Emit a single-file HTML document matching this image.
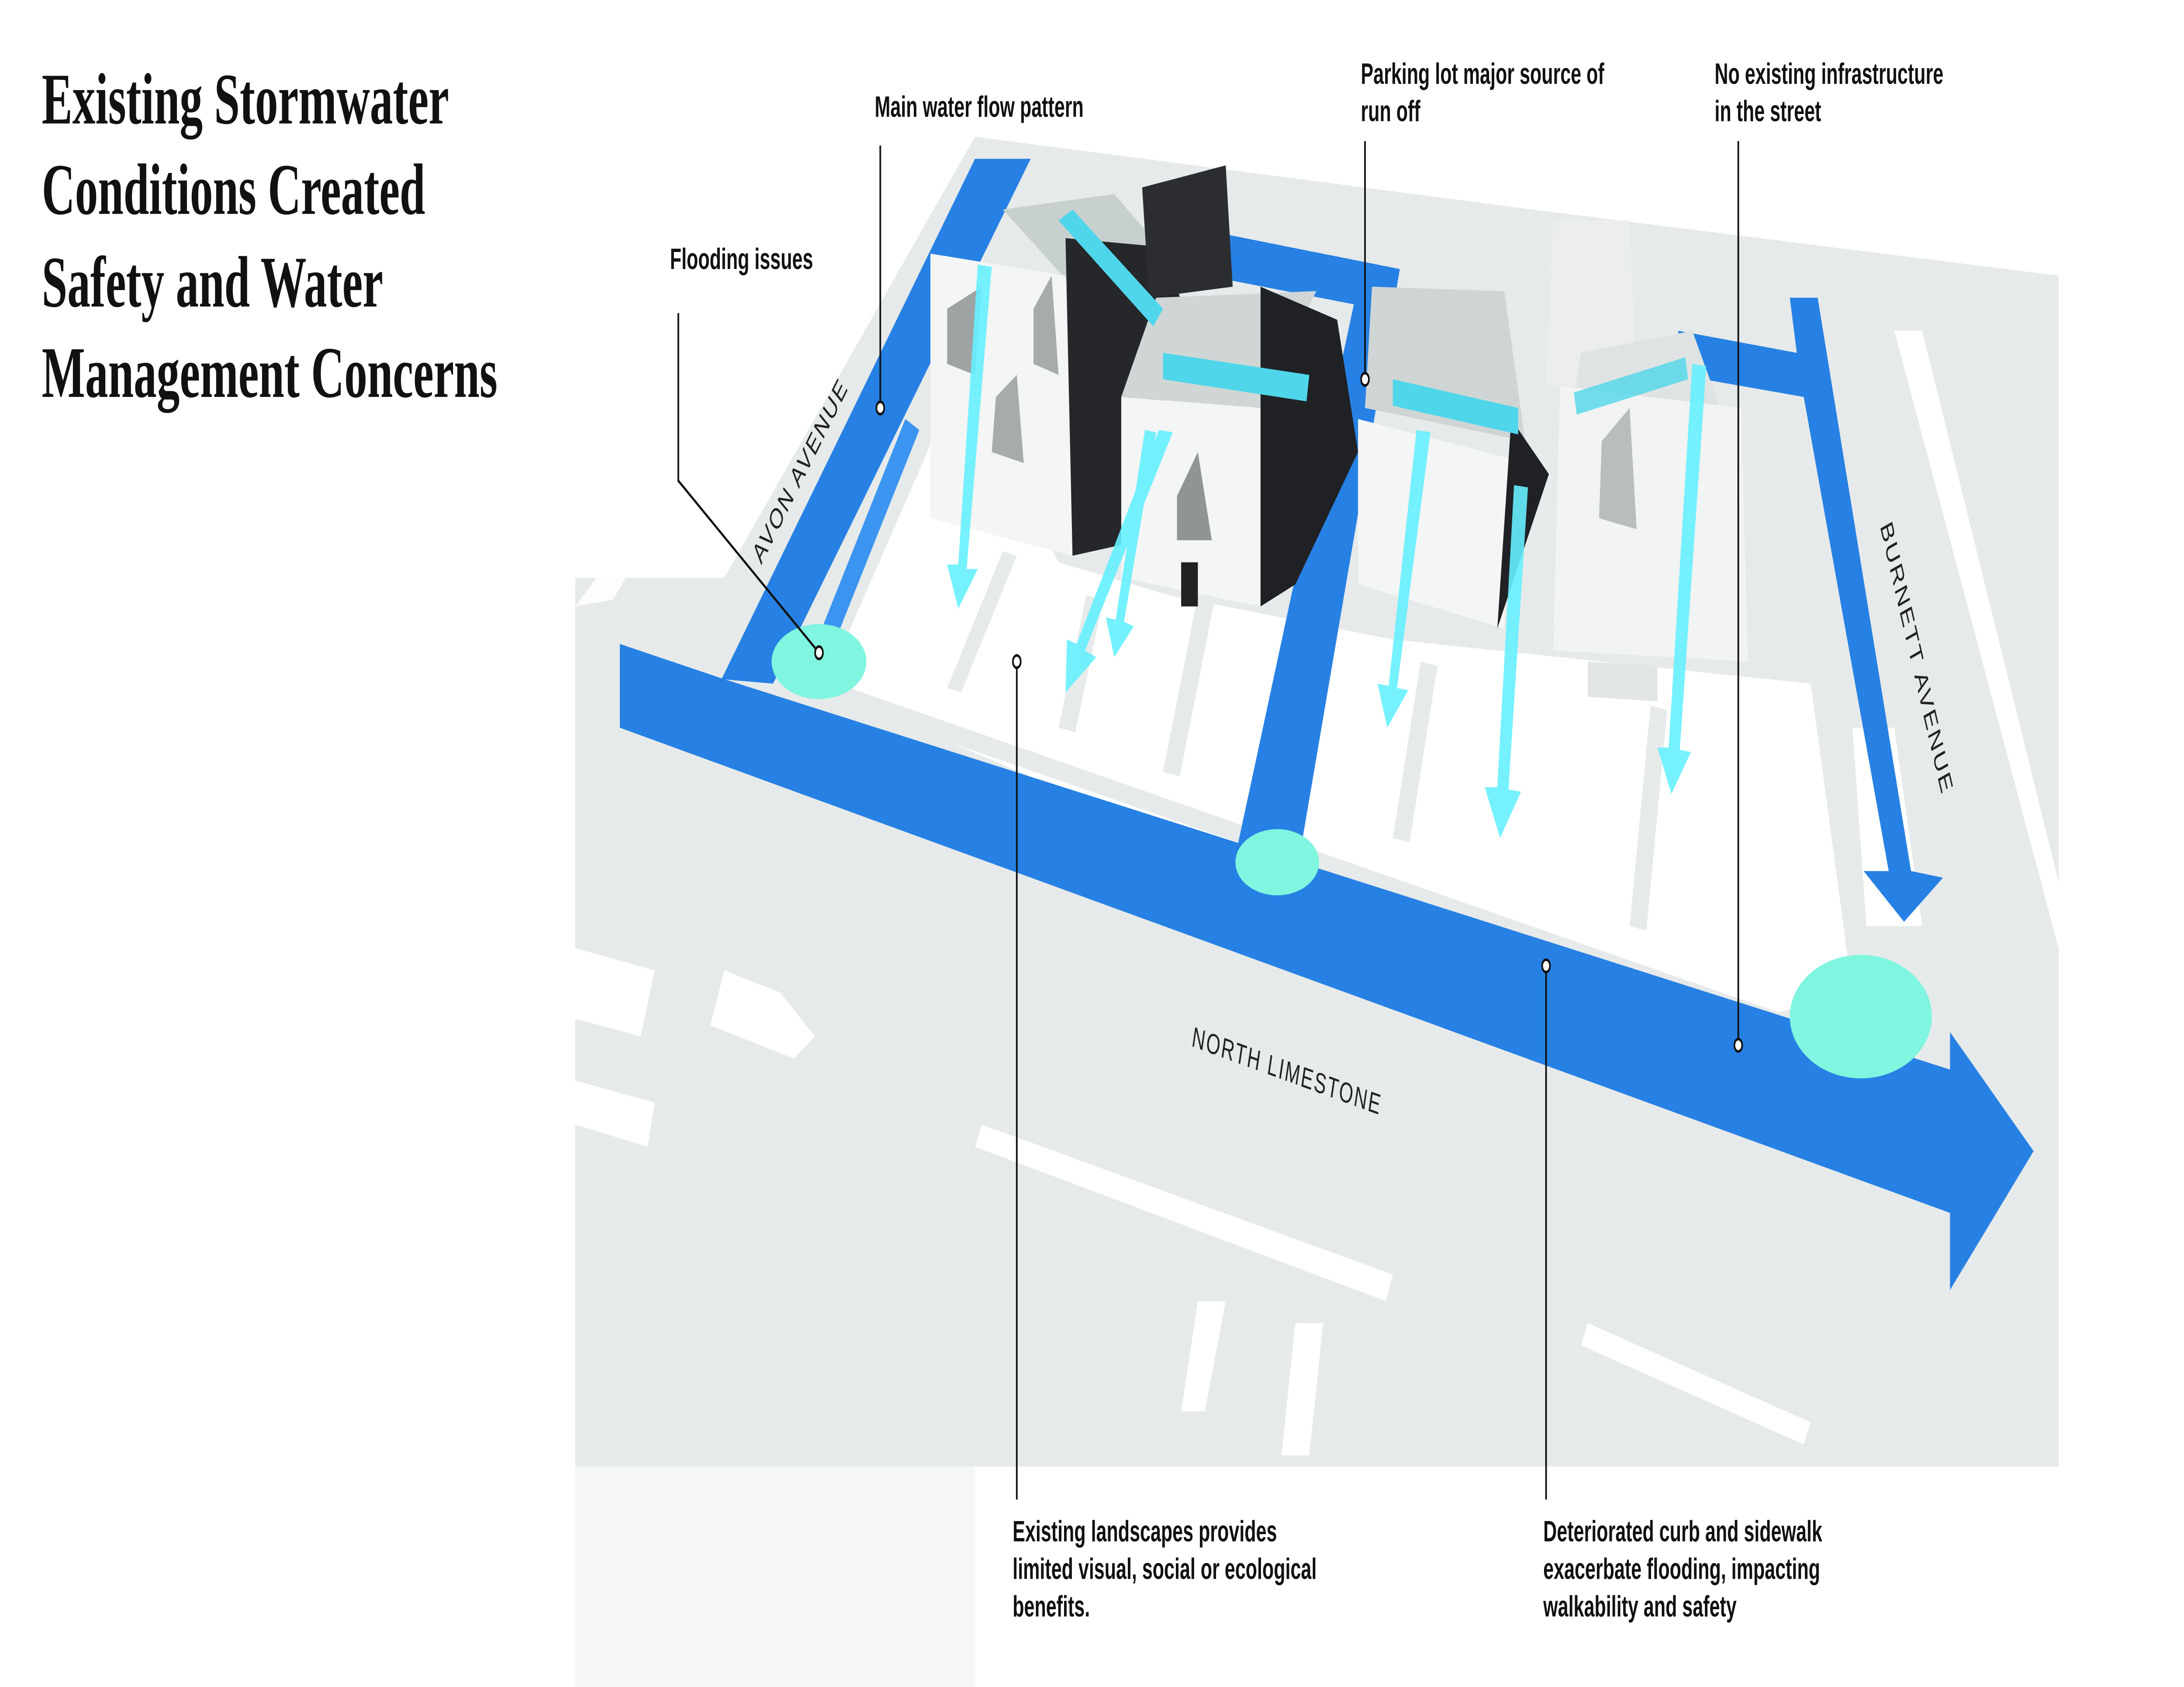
<!DOCTYPE html>
<html><head><meta charset="utf-8">
<style>
html,body{margin:0;padding:0;background:#fff;width:100%;height:100%;overflow:hidden;}
svg{display:block;position:fixed;left:0;top:0;width:100vw;height:100vh;}
.lbl{font-family:"Liberation Sans",sans-serif;font-weight:bold;font-size:13.5px;fill:#111;}
.rd{font-family:"Liberation Sans",sans-serif;font-size:13px;fill:#222;letter-spacing:1px;}
.ttl{font-family:"Liberation Serif",serif;font-weight:bold;font-size:33px;fill:#111;}
</style></head>
<body>
<svg viewBox="0 0 1568 765" preserveAspectRatio="none" xmlns="http://www.w3.org/2000/svg">
<rect width="1568" height="765" fill="#fff"/>
<polygon points="413,665 700,665 700,765 413,765" fill="#f6f8f8"/>
<polygon points="413,262 520,262 700,62 1100,95 1478,125 1478,665 413,665" fill="#e6eaea"/>
<polygon points="600,300 690,170 760,255 840,270 1000,290 1300,310 1330,450 1260,462 1120,440 900,395 620,320" fill="#ffffff"/>
<polygon points="610,312 1290,462 1290,470 606,320" fill="#e6eaea"/>
<polygon points="680,312 720,250 730,252 690,314" fill="#e6eaea"/>
<polygon points="835,350 860,270 872,272 847,352" fill="#e6eaea"/>
<polygon points="1000,380 1020,300 1032,302 1012,382" fill="#e6eaea"/>
<polygon points="1170,420 1185,320 1197,322 1182,422" fill="#e6eaea"/>
<polygon points="760,330 780,270 792,272 772,332" fill="#e6eaea"/>
<polygon points="705,510 1000,578 995,590 700,520" fill="#fff"/>
<polygon points="1140,600 1300,645 1295,655 1135,610" fill="#fff"/>
<polygon points="413,430 470,440 460,470 413,462" fill="#fff"/>
<polygon points="413,490 470,500 465,520 413,510" fill="#fff"/>
<polygon points="520,440 560,450 585,470 570,480 510,465" fill="#fff"/>
<polygon points="860,590 880,590 865,640 848,640" fill="#fff"/>
<polygon points="930,600 950,600 940,660 920,660" fill="#fff"/>
<polygon points="413,275 440,272 620,80 640,80" fill="#fff" opacity="0.9"/>
<polygon points="1360,150 1380,150 1478,400 1478,430" fill="#fff"/>
<polygon points="1330,330 1360,330 1380,420 1340,420" fill="#fff"/>
<polygon points="445,292 520,308 1400,485 1400,468 1460,522 1400,585 1400,550 445,330" fill="#2781e4"/>
<polygon points="518,308 700,72 740,72 555,310" fill="#2781e4"/>
<polygon points="590,285 650,190 660,195 600,290" fill="#3b95f0"/>
<polygon points="870,105 1005,122 932,392 888,385 972,138 866,125" fill="#2781e4"/>
<polygon points="1205,150 1290,160 1285,135 1305,135 1372,395 1395,398 1367,418 1338,395 1356,395 1295,180 1205,170" fill="#2781e4"/>
<polygon points="720,95 800,88 830,110 770,130" fill="#c8cfcf"/>
<polygon points="668,115 765,125 770,252 668,235" fill="#f4f5f5"/>
<polygon points="765,108 835,112 850,140 820,245 770,252" fill="#25272a"/>
<polygon points="680,140 705,130 700,170 680,165" fill="#9ea3a3"/>
<polygon points="715,180 730,170 735,210 712,205" fill="#a6abab"/>
<polygon points="742,140 755,125 760,170 742,165" fill="#a6abab"/>
<polygon points="820,85 880,75 885,130 825,135" fill="#2b2d30"/>
<polygon points="830,135 945,132 905,185 805,180" fill="#d0d6d6"/>
<polygon points="805,180 905,185 905,275 805,262" fill="#f4f5f5"/>
<polygon points="905,130 960,145 975,205 930,265 905,275" fill="#1f2124"/>
<polygon points="845,225 860,205 870,245 845,245" fill="#8f9595"/>
<polygon points="848,255 860,255 860,275 848,275" fill="#222"/>
<polygon points="1115,100 1170,100 1175,175 1110,175" fill="#eceeee"/>
<polygon points="985,130 1080,132 1095,200 980,185" fill="#cfd5d5"/>
<polygon points="975,190 1085,208 1080,285 975,265" fill="#f4f5f5"/>
<polygon points="1085,190 1112,215 1075,285" fill="#1f2124"/>
<polygon points="1135,160 1215,150 1235,185 1130,180" fill="#dfe3e3"/>
<polygon points="1120,175 1250,185 1255,300 1115,295" fill="#f2f3f3"/>
<polygon points="1150,200 1170,185 1175,240 1148,235" fill="#b8bebe"/>
<polygon points="1140,300 1190,302 1190,318 1140,316" fill="#e2e6e6"/>
<polygon points="760,100 770,95 835,140 828,148" fill="#4fd6ea"/>
<polygon points="835,160 940,170 938,182 835,172" fill="#4fd6ea"/>
<polygon points="1000,172 1090,185 1090,197 1000,184" fill="#4fd6ea"/>
<polygon points="1130,178 1210,162 1212,172 1132,188" fill="#4fd6ea" opacity="0.8"/>
<g fill="#66f0ff" opacity="0.9">
<polygon points="702,120 712,121 694,258 702,258 688,276 680,256 688,256"/>
<polygon points="832,195 842,196 779,295 787,298 765,314 766,290 773,292"/>
<polygon points="822,195 830,196 807,282 814,284 800,298 794,280 801,281"/>
<polygon points="1017,195 1027,196 1003,312 1011,313 996,330 989,310 997,311"/>
<polygon points="1087,220 1097,221 1083,358 1092,359 1077,380 1066,357 1075,357"/>
<polygon points="1215,165 1225,166 1206,340 1214,341 1200,360 1190,339 1198,339"/>
</g>
<ellipse cx="588" cy="300" rx="34" ry="17" fill="#80f5e0"/>
<ellipse cx="917" cy="391" rx="30" ry="15" fill="#80f5e0"/>
<ellipse cx="1336" cy="461" rx="51" ry="28" fill="#80f5e0"/>
<text class="rd" transform="translate(578,216) rotate(-52)" text-anchor="middle">AVON AVENUE</text>
<text class="rd" transform="translate(923,490) rotate(13)" text-anchor="middle" font-size="14">NORTH  LIMESTONE</text>
<text class="rd" transform="translate(1372,300) rotate(70)" text-anchor="middle">BURNETT  AVENUE</text>
<g stroke="#111" stroke-width="1.2" fill="none">
<polyline points="487,142 487,218 588,296"/>
<line x1="632" y1="66" x2="632" y2="183"/>
<line x1="980" y1="64" x2="980" y2="170"/>
<line x1="1248" y1="64" x2="1248" y2="472"/>
<line x1="730" y1="302" x2="730" y2="680"/>
<line x1="1110" y1="440" x2="1110" y2="680"/>
</g>
<g stroke="#111" stroke-width="1.2" fill="#fff">
<circle cx="588" cy="296" r="2.8"/>
<circle cx="632" cy="185" r="2.8"/>
<circle cx="980" cy="172" r="2.8"/>
<circle cx="1248" cy="474" r="2.8"/>
<circle cx="730" cy="300" r="2.8"/>
<circle cx="1110" cy="438" r="2.8"/>
</g>
<text class="lbl" x="481" y="122">Flooding issues</text>
<text class="lbl" x="628" y="53">Main water flow pattern</text>
<text class="lbl" x="977" y="38">Parking lot major source of</text>
<text class="lbl" x="977" y="55">run off</text>
<text class="lbl" x="1231" y="38">No existing infrastructure</text>
<text class="lbl" x="1231" y="55">in the street</text>
<text class="lbl" x="727" y="699">Existing landscapes provides</text>
<text class="lbl" x="727" y="716">limited visual, social or ecological</text>
<text class="lbl" x="727" y="733">benefits.</text>
<text class="lbl" x="1108" y="699">Deteriorated curb and sidewalk</text>
<text class="lbl" x="1108" y="716">exacerbate flooding, impacting</text>
<text class="lbl" x="1108" y="733">walkability and safety</text>
<text class="ttl" x="30" y="56">Existing Stormwater</text>
<text class="ttl" x="30" y="97">Conditions Created</text>
<text class="ttl" x="30" y="139">Safety and Water</text>
<text class="ttl" x="30" y="180">Management Concerns</text>
</svg>
</body></html>
